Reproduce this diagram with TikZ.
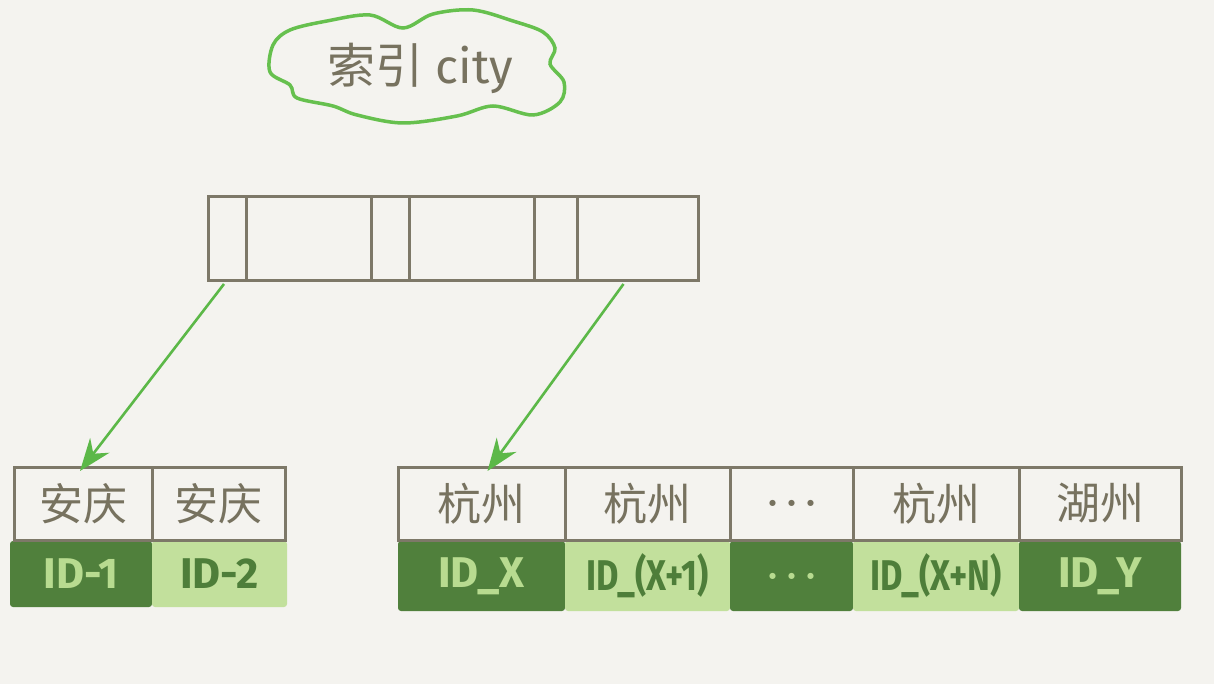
\documentclass[tikz,border=0pt]{standalone}
\usepackage{fontspec}
\setmainfont{Fira Sans}
\newfontfamily\cjk{Noto Sans CJK SC}
\newfontfamily\dejavu{DejaVu Sans}
\usetikzlibrary{arrows.meta,calc}
\definecolor{bg}{HTML}{F4F3EF}
\definecolor{boxline}{HTML}{7D7868}
\definecolor{txtgray}{HTML}{77725F}
\definecolor{cloudgreen}{HTML}{66C04E}
\definecolor{arrowgreen}{HTML}{5CB848}
\definecolor{darkg}{HTML}{50803C}
\definecolor{lightg}{HTML}{C2E09C}
\definecolor{darkgtxt}{HTML}{4E7E3A}
\definecolor{lightgtxt}{HTML}{B8DB90}
\newcommand{\mydots}{{\dejavu\fontsize{8}{10}\selectfont ●\hspace{12pt}●\hspace{12pt}●}}
\tikzset{
  cell/.style={draw=boxline, line width=3pt, inner sep=0pt, outer sep=0pt, anchor=north west, minimum height=#1},
  keycell/.style={cell=73pt, font=\cjk\fontsize{44}{48}\selectfont, text=txtgray},
  topcell/.style={cell=84pt},
  idd/.style={fill=darkg, rounded corners=3pt, inner sep=0pt, outer sep=0pt, anchor=north west, font=\bfseries\fontsize{43}{46}\selectfont, text=lightgtxt},
  idl/.style={fill=lightg, rounded corners=3pt, inner sep=0pt, outer sep=0pt, anchor=north west, font=\bfseries\fontsize{43}{46}\selectfont, text=darkgtxt},
  ptr/.style={draw=arrowgreen, line width=2.6pt, arrows={-Stealth[scale=2.2]}}
}
\begin{document}
\begin{tikzpicture}[x=1pt,y=-1pt]
\useasboundingbox[fill=bg] (0,0) rectangle (1214,684);
% cloud
\draw[cloudgreen, line width=3.5pt, fill=bg] plot[smooth cycle, tension=0.55] coordinates {
 (270,72) (273,45) (290,30) (327,21) (370,15) (403,28) (433,14) (473,10) (513,21) (543,32)
 (555,48) (550,64) (564,82) (560,102) (533,115) (493,106) (457,116) (403,123) (357,115)
 (333,106) (297,98) (290,85)};
\node[font=\fontsize{48}{52}\selectfont, text=txtgray] (title) at (420,68) {{\cjk 索引} city};
% top index page
\node[topcell, minimum width=38pt]  (t1) at (208,197) {};
\node[topcell, minimum width=125pt] (t2) at (246,197) {};
\node[topcell, minimum width=38pt]  (t3) at (371,197) {};
\node[topcell, minimum width=125pt] (t4) at (409,197) {};
\node[topcell, minimum width=43pt]  (t5) at (534,197) {};
\node[topcell, minimum width=121pt] (t6) at (577,197) {};
% left leaf
\node[keycell, minimum width=138pt] (l1) at (14,467) {安庆};
\node[keycell, minimum width=133pt] (l2) at (152,467) {安庆};
\node[idd, minimum width=142pt, minimum height=66pt] (li1) at (10,541) {ID-1};
\node[idl, minimum width=135pt, minimum height=66pt] (li2) at (152,541) {ID-2};
% right leaf
\node[keycell, minimum width=167pt] (r1) at (398,467) {杭州};
\node[keycell, minimum width=165pt] (r2) at (565,467) {杭州};
\node[keycell, minimum width=123pt, text=txtgray] (r3) at (730,467) {\mydots};
\node[keycell, minimum width=166pt] (r4) at (853,467) {杭州};
\node[keycell, minimum width=162pt] (r5) at (1019,467) {湖州};
\node[idd, minimum width=167pt, minimum height=70pt] (ri1) at (398,541) {ID\_X};
\node[idl, minimum width=165pt, minimum height=70pt] (ri2) at (565,541) {\scalebox{0.8}[1]{ID\_(X+1)}};
\node[idd, minimum width=123pt, minimum height=70pt] (ri3) at (730,541) {\mydots};
\node[idl, minimum width=166pt, minimum height=70pt] (ri4) at (853,541) {\scalebox{0.8}[1]{ID\_(X+N)}};
\node[idd, minimum width=162pt, minimum height=70pt] (ri5) at (1019,541) {ID\_Y};
% redraw key rows on top
\foreach \n in {l1,l2,r1,r2,r3,r4,r5} {\draw[boxline, line width=3pt] (\n.north west) rectangle (\n.south east);}
% pointers
\draw[ptr] ($(t1.south)+(-3,3)$) -- ($(l1.north)+(-3,4)$);
\draw[ptr] ($(t6.south)+(-14,3)$) -- ($(r1.north)+(6,4)$);
\end{tikzpicture}
\end{document}
